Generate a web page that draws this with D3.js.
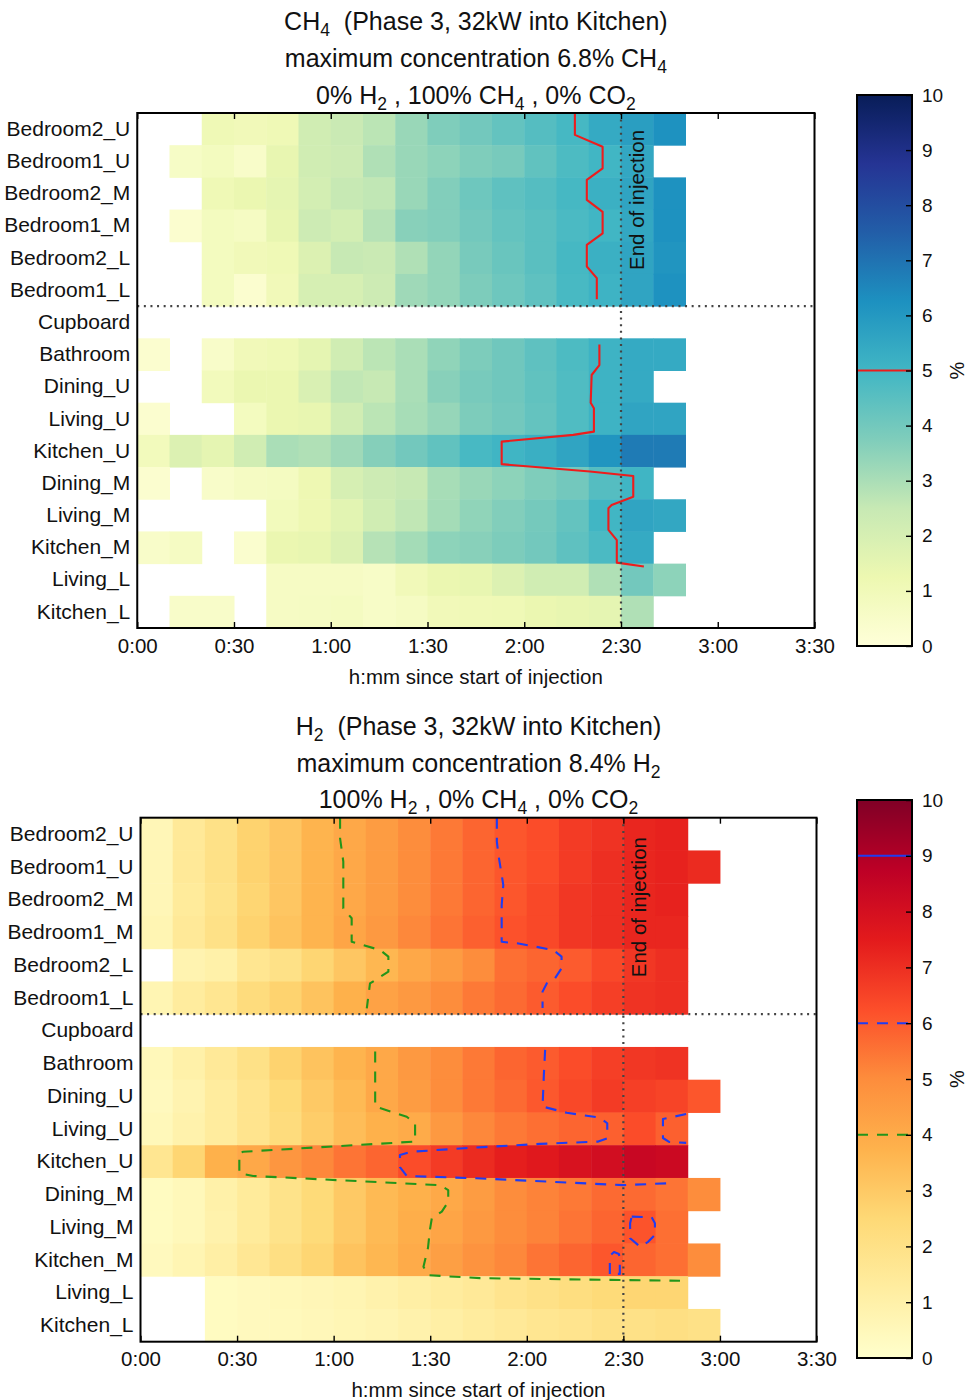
<!DOCTYPE html>
<html><head><meta charset="utf-8">
<script src="https://cdn.jsdelivr.net/npm/d3@7"></script>
<style>
body{margin:0;background:#fff;}
svg{display:block;font-family:"Liberation Sans",Arial,Helvetica,sans-serif;}
</style></head><body>
<svg id="chart" width="967" height="1400"></svg>
<script>
// ---------------- data ----------------
const rooms = ["Bedroom2_U","Bedroom1_U","Bedroom2_M","Bedroom1_M","Bedroom2_L","Bedroom1_L","Cupboard",
  "Bathroom","Dining_U","Living_U","Kitchen_U","Dining_M","Living_M","Kitchen_M","Living_L","Kitchen_L"];
const binMinutes = 10;
const timeTicks = [0,30,60,90,120,150,180,210];
const timeTickLabels = ["0:00","0:30","1:00","1:30","2:00","2:30","3:00","3:30"];
const cbarTicks = [0,1,2,3,4,5,6,7,8,9,10];
const injectionEnd = 150;
const cupboardBoundary = 6;

// CH4 concentration (%) per 10-minute bin, rows in order of `rooms`
const ch4Values = [
  [null,null,1.1,1.0,1.1,2.2,2.4,2.7,3.3,3.75,4.0,4.3,4.6,4.9,5.4,5.8,6.2],
  [null,0.6,0.8,0.5,1.4,2.2,2.3,2.9,3.3,3.5,3.75,3.9,4.35,4.75,5.0,5.5,null],
  [null,null,1.1,1.3,1.5,2.1,2.5,2.6,3.3,3.7,4.1,4.4,4.6,4.9,5.2,5.6,6.2],
  [null,0.3,0.8,0.7,1.4,2.3,2.1,2.8,3.6,3.7,4.0,4.3,4.5,4.8,5.0,5.5,6.2],
  [null,null,0.8,1.0,1.1,1.8,2.5,2.4,2.9,3.4,3.9,4.2,4.5,4.9,5.2,5.6,6.1],
  [null,null,0.8,0.3,1.0,2.0,2.0,2.3,3.2,3.4,3.8,4.1,4.4,4.85,5.1,5.6,6.2],
  [],
  [0.3,null,0.5,1.0,1.1,1.5,2.2,2.7,3.0,3.45,3.8,4.05,4.4,4.75,5.1,5.4,5.4],
  [null,null,0.9,1.3,1.3,1.9,2.6,2.5,3.0,3.6,3.9,4.05,4.35,4.7,5.1,5.4,null],
  [0.3,null,null,0.8,1.3,1.4,2.2,2.7,3.05,3.35,3.8,4.0,4.3,4.7,5.1,5.6,5.6],
  [0.9,1.8,1.5,2.2,3.0,2.9,3.2,3.65,4.0,4.35,4.85,5.05,5.25,5.6,6.1,6.8,6.8],
  [0.3,null,0.5,0.7,0.75,1.2,2.0,2.3,2.5,3.05,3.3,3.5,3.75,4.0,4.6,5.05,null],
  [null,null,null,null,0.9,1.2,1.6,2.2,2.6,3.1,3.45,3.7,3.95,4.3,5.0,5.6,5.5],
  [0.5,0.7,null,0.35,1.3,1.4,1.8,2.8,3.1,3.5,3.6,3.8,4.0,4.4,4.8,5.4,null],
  [null,null,null,null,0.65,0.65,0.65,0.55,1.0,1.3,1.4,1.8,2.2,2.2,2.9,4.0,3.5],
  [null,0.5,0.5,null,0.65,0.7,0.75,0.55,0.7,1.0,1.05,1.1,1.3,1.4,1.5,2.9,null]
];

// H2 concentration (%) per 10-minute bin
const h2Values = [
  [0.6,1.5,2.0,2.7,3.1,3.7,4.1,4.5,5.0,5.4,5.8,6.1,6.3,6.7,6.9,7.2,7.3,null],
  [0.6,1.5,2.0,2.7,3.1,3.7,4.1,4.5,5.0,5.4,5.8,6.1,6.3,6.7,7.0,7.2,7.3,7.1],
  [0.6,1.4,1.9,2.6,3.1,3.7,4.1,4.5,5.0,5.4,5.8,6.1,6.4,6.8,7.0,7.2,7.3,null],
  [0.7,1.5,2.0,2.7,3.2,3.7,4.2,4.6,5.1,5.5,5.9,6.2,6.4,6.8,7.0,7.2,7.2,null],
  [null,0.8,1.0,1.7,2.0,2.6,3.1,3.6,4.1,4.5,5.0,5.6,5.8,6.0,6.4,6.8,7.0,null],
  [0.7,1.3,1.7,2.3,2.7,3.2,3.8,4.3,4.6,5.0,5.4,5.7,6.0,6.3,6.6,6.9,7.0,null],
  [],
  [0.5,1.0,1.5,2.0,2.7,3.2,3.7,4.1,4.6,5.0,5.4,5.8,6.0,6.3,6.6,6.8,6.9,null],
  [0.4,0.8,1.3,1.8,2.4,3.0,3.5,4.1,4.5,5.0,5.4,5.7,6.05,6.4,6.7,6.6,6.5,6.1],
  [0.5,0.9,1.3,1.8,2.3,2.9,3.4,3.8,4.0,4.6,5.1,5.4,5.6,5.8,5.9,6.3,5.9,null],
  [1.7,2.6,3.8,4.1,4.7,5.1,5.5,5.8,6.3,6.7,7.1,7.4,7.6,7.9,8.1,8.4,8.3,null],
  [0.3,0.5,1.0,1.4,1.9,2.4,3.0,3.5,3.8,4.05,4.5,5.0,5.2,5.4,5.7,5.7,5.5,5.0],
  [0.3,0.5,0.9,1.4,1.9,2.4,3.0,3.5,3.9,4.2,4.6,5.0,5.2,5.5,5.8,6.15,5.6,null],
  [0.4,0.7,1.1,1.6,2.1,2.6,3.2,3.6,4.0,4.4,4.8,5.1,5.5,5.8,6.1,5.8,5.6,5.0],
  [null,null,0.3,0.4,0.5,0.6,0.7,0.9,1.1,1.3,1.5,1.8,2.0,2.2,2.4,2.6,2.6,null],
  [null,null,0.3,0.4,0.45,0.55,0.65,0.75,0.9,1.1,1.3,1.5,1.7,1.8,2.0,2.0,2.1,2.0]
];

// contour polylines: [minutes, row position (0 = top edge, 16 = bottom edge)]
const ch4Level5 = [
  [[135.7,0],[135.7,0.68],[144.3,1.05],[144.3,1.72],[139.4,2.08],[139.4,2.70],[144.3,3.07],[144.3,3.74],
   [139.4,4.10],[139.4,4.77],[142.5,5.13],[142.5,5.79]],
  [[143.3,7.19],[143.3,7.83],[140.9,8.14],[140.6,9.0],[141.6,9.17],[141.6,9.90],[135.2,10.0],[113.0,10.21],
   [113.0,10.91],[140.4,11.14],[153.8,11.28],[153.8,11.92],[147.1,12.18],[146.1,12.28],[146.1,12.95],
   [148.7,13.27],[148.7,13.97],[157.1,14.09]]
];
const h2Level4 = [
  [[62.0,0],[62.0,0.63],[63.0,1.34],[63.0,2.77],[65.6,3.07],[65.6,3.79],[74.4,4.04],[77.0,4.24],[77.0,4.70],
   [71.3,5.06],[70.3,5.82]],
  [[72.9,7.14],[72.9,8.82],[82.7,9.13],[85.3,9.33],[85.3,9.89],[31.9,10.20],[30.7,10.25],[30.7,10.86],
   [35.0,10.94],[93.0,11.22],[95.6,11.37],[95.6,11.73],[93.6,12.03],[90.5,12.23],[89.9,12.59],[89.3,13.14],
   [87.9,13.71],[89.4,13.97],[105.5,14.06],[167.6,14.14]]
];
const h2Level6 = [
  [[110.7,0],[110.7,0.73],[111.2,1.14],[112.7,2.05],[112.2,2.67],[112.2,3.79],[117.4,3.84],[128.2,4.04],
   [130.8,4.24],[130.8,4.60],[128.8,4.90],[126.2,5.06],[124.9,5.31],[124.9,5.81]],
  [[125.7,7.09],[125.3,7.86],[124.9,8.82],[132.4,9.01],[142.7,9.16],[145.0,9.33],[145.0,9.79],[142.2,9.89],
   [124.1,9.96],[102.4,10.08],[84.2,10.20],[80.6,10.30],[80.6,10.67],[82.7,10.94],[104.4,11.01],
   [150.0,11.22],[164.5,11.16]],
  [[169.5,9.05],[162.3,9.20],[162.3,9.78],[164.2,9.90],[169.5,9.93]],
  [[152.6,12.18],[158.8,12.20],[159.8,12.38],[159.8,12.74],[157.7,12.95],[155.2,13.10],[152.1,12.84],
   [152.1,12.38],[152.6,12.18]],
  [[145.8,13.93],[145.8,13.38],[147.1,13.26],[148.6,13.32],[148.9,13.44],[148.9,13.93],[145.8,13.93]]
];
const h2Level9 = [];

const ch4Title = [
  [["CH",0],["4",1],["  (Phase 3, 32kW into Kitchen)",0]],
  [["maximum concentration 6.8% CH",0],["4",1]],
  [["0% H",0],["2",1],[" , 100% CH",0],["4",1],[" , 0% CO",0],["2",1]]
];
const h2Title = [
  [["H",0],["2",1],["  (Phase 3, 32kW into Kitchen)",0]],
  [["maximum concentration 8.4% H",0],["2",1]],
  [["100% H",0],["2",1],[" , 0% CH",0],["4",1],[" , 0% CO",0],["2",1]]
];

// ---------------- drawing ----------------
const svg = d3.select("#chart");
const defs = svg.append("defs");

const panels = [
  {id:"ch4", values: ch4Values, scheme: d3.schemeYlGnBu[9], title: ch4Title,
   left:137.25, right:814.5, top:113, bottom:628, titleY:[30,67,104], xLabelY:683.5,
   cb:{left:857, right:912, top:95, bottom:646},
   contours:[{lines: ch4Level5, level:5, color:"#ee1c1c", dash:null}],
   endTextRow: 2.7},
  {id:"h2", values: h2Values, scheme: d3.schemeYlOrRd[9], title: h2Title,
   left:140.5, right:816.5, top:817.7, bottom:1341.7, titleY:[735,772,808], xLabelY:1396.5,
   cb:{left:857, right:912, top:800, bottom:1358},
   contours:[{lines: h2Level4, level:4, color:"#23951a", dash:"11,9"},
             {lines: h2Level6, level:6, color:"#1f3cf2", dash:"11,9"},
             {lines: h2Level9, level:9, color:"#1f3cf2", dash:null}],
   endTextRow: 2.73}
];

panels.forEach(p => {
  const x = d3.scaleLinear().domain([0,210]).range([p.left,p.right]);
  const yr = d3.scaleLinear().domain([0,rooms.length]).range([p.top,p.bottom]);
  const yb = d3.scaleBand().domain(rooms).range([p.top,p.bottom]);
  const color = d3.scaleLinear().domain(d3.range(9).map(i => i*10/8)).range(p.scheme).clamp(true);
  const g = svg.append("g");

  // heat cells
  const cells = [];
  p.values.forEach((row,i) => row.forEach((v,j) => { if (v != null) cells.push({i,j,v}); }));
  g.append("g").selectAll("rect").data(cells).join("rect")
    .attr("x", d => x(d.j*binMinutes))
    .attr("y", d => yr(d.i))
    .attr("width", d => x((d.j+1)*binMinutes) - x(d.j*binMinutes) + 0.5)
    .attr("height", d => yr(d.i+1) - yr(d.i) + 0.5)
    .attr("fill", d => color(d.v));

  // contour lines
  const line = d3.line().x(d => x(d[0])).y(d => yr(d[1]));
  p.contours.forEach(c => {
    g.append("g").selectAll("path").data(c.lines).join("path")
      .attr("d", line).attr("fill","none").attr("stroke", c.color)
      .attr("stroke-width", 2.1).attr("stroke-linejoin","round")
      .attr("stroke-dasharray", c.dash);
  });

  // dotted reference lines
  g.append("line").attr("x1", x(injectionEnd)).attr("x2", x(injectionEnd))
    .attr("y1", p.top).attr("y2", p.bottom)
    .attr("stroke","#444").attr("stroke-width",2.2).attr("stroke-dasharray","2,4.6");
  g.append("line").attr("x1", p.left).attr("x2", p.right)
    .attr("y1", yr(cupboardBoundary)).attr("y2", yr(cupboardBoundary))
    .attr("stroke","#444").attr("stroke-width",2.2).attr("stroke-dasharray","2,4.6");

  // End of injection label
  g.append("text")
    .attr("transform", `translate(${x(injectionEnd)+23},${yr(p.endTextRow)}) rotate(-90)`)
    .attr("text-anchor","middle").attr("font-size",20.5).attr("fill","#111")
    .text("End of injection");

  // axes
  const xb = g.append("g").attr("transform",`translate(0,${p.bottom})`)
    .call(d3.axisBottom(x).tickValues(timeTicks).tickFormat((d,i) => timeTickLabels[i]).tickSize(-6).tickPadding(10));
  const xt = g.append("g").attr("transform",`translate(0,${p.top})`)
    .call(d3.axisTop(x).tickValues(timeTicks).tickFormat("").tickSize(-6));
  const yl = g.append("g").attr("transform",`translate(${p.left},0)`)
    .call(d3.axisLeft(yb).tickSize(0).tickPadding(7));
  [xb,xt,yl].forEach(a => {
    a.select(".domain").remove();
    a.selectAll("line").attr("stroke","#000").attr("stroke-width",1.4);
    a.selectAll("text").attr("font-size",20.5).attr("fill","#111")
      .attr("font-family",'"Liberation Sans",Arial,sans-serif');
  });
  yl.selectAll("text").attr("font-size",21);

  // frame
  g.append("rect").attr("x",p.left).attr("y",p.top)
    .attr("width",p.right-p.left).attr("height",p.bottom-p.top)
    .attr("fill","none").attr("stroke","#000").attr("stroke-width",2);

  // x label
  g.append("text").attr("x",(p.left+p.right)/2).attr("y",p.xLabelY)
    .attr("text-anchor","middle").attr("font-size",20.5).attr("fill","#111")
    .text("h:mm since start of injection");

  // title
  p.title.forEach((segs,li) => {
    const t = g.append("text").attr("x",(p.left+p.right)/2).attr("y",p.titleY[li])
      .attr("text-anchor","middle").attr("font-size",25).attr("fill","#111")
      .style("white-space","pre");
    let shifted = false;
    segs.forEach(([s,sub]) => {
      const ts = t.append("tspan").text(s);
      if (sub && !shifted) { ts.attr("dy",6).attr("font-size",17.5); shifted = true; }
      else if (sub) { ts.attr("font-size",17.5); }
      else if (shifted) { ts.attr("dy",-6); shifted = false; }
    });
  });

  // colorbar
  const cb = p.cb;
  const cy = d3.scaleLinear().domain([0,10]).range([cb.bottom, cb.top]);
  const grad = defs.append("linearGradient").attr("id","grad-"+p.id)
    .attr("x1",0).attr("y1",1).attr("x2",0).attr("y2",0);
  p.scheme.forEach((c,i) => grad.append("stop").attr("offset",(i/8*100)+"%").attr("stop-color",c));
  g.append("rect").attr("x",cb.left).attr("y",cb.top)
    .attr("width",cb.right-cb.left).attr("height",cb.bottom-cb.top)
    .attr("fill",`url(#grad-${p.id})`);
  p.contours.forEach(c => {
    g.append("line").attr("x1",cb.left).attr("x2",cb.right)
      .attr("y1",cy(c.level)).attr("y2",cy(c.level))
      .attr("stroke",c.color).attr("stroke-width",2).attr("stroke-dasharray", c.dash);
  });
  const ca = g.append("g").attr("transform",`translate(${cb.right},0)`)
    .call(d3.axisRight(cy).tickValues(cbarTicks).tickFormat(d3.format("d")).tickSize(-6).tickPadding(10));
  ca.select(".domain").remove();
  ca.selectAll("line").attr("stroke","#000").attr("stroke-width",1.4);
  ca.selectAll("text").attr("font-size",19).attr("fill","#111")
    .attr("font-family",'"Liberation Sans",Arial,sans-serif');
  g.append("rect").attr("x",cb.left).attr("y",cb.top)
    .attr("width",cb.right-cb.left).attr("height",cb.bottom-cb.top)
    .attr("fill","none").attr("stroke","#000").attr("stroke-width",2);
  g.append("text")
    .attr("transform",`translate(${cb.right+52},${cy(5)}) rotate(-90)`)
    .attr("text-anchor","middle").attr("font-size",20).attr("fill","#111").text("%");
});
</script>
</body></html>
